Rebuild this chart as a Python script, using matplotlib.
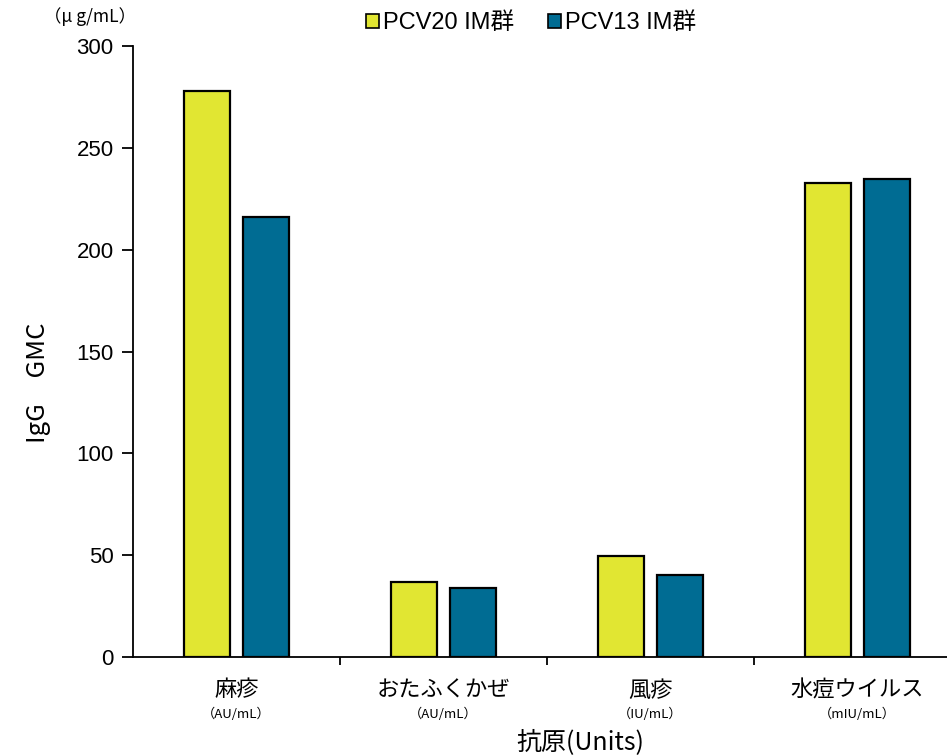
import matplotlib
matplotlib.use("Agg")
import matplotlib.pyplot as plt
import matplotlib.transforms as mtransforms
import numpy as np

plt.rcParams['font.family'] = ['Noto Sans CJK JP', 'DejaVu Sans']
LATIN = ['Liberation Sans', 'Noto Sans CJK JP']

categories = ["麻疹", "おたふくかぜ", "風疹", "水痘ウイルス"]
units = ["（AU/mL）", "（AU/mL）", "（IU/mL）", "（mIU/mL）"]
pcv20 = [278, 36.7, 49.6, 232.8]
pcv13 = [216, 33.9, 40.3, 234.6]
series_names = ["PCV20 IM群", "PCV13 IM群"]
yticks = [0, 50, 100, 150, 200, 250, 300]

c_yellow = "#E1E632"
c_blue = "#006C93"

W, H = 947, 756
fig = plt.figure(figsize=(W / 100, H / 100), dpi=100)
ax = fig.add_axes([133 / W, (H - 657) / H, (961 - 133) / W, 611 / H])

x = np.arange(len(categories))
bw = 0.227
off = 0.1425
ax.bar(x - off, pcv20, bw, color=c_yellow, edgecolor="black", linewidth=1.6, label=series_names[0], zorder=3)
ax.bar(x + off, pcv13, bw, color=c_blue, edgecolor="black", linewidth=1.6, label=series_names[1], zorder=3)

ax.set_xlim(-0.5, 3.5)
ax.set_ylim(0, 300)
ax.set_yticks(yticks)
ax.set_yticklabels([str(v) for v in yticks], fontsize=16, family=LATIN)
ax.tick_params(axis="y", direction="out", length=8, width=1.3, pad=6)
ax.set_xticks([0.5, 1.5, 2.5])
ax.set_xticklabels([])
ax.tick_params(axis="x", direction="out", length=6, width=1.3)
for s in ["top", "right"]:
    ax.spines[s].set_visible(False)
ax.spines["left"].set_linewidth(1.3)
ax.spines["bottom"].set_linewidth(1.3)

trans = mtransforms.blended_transform_factory(ax.transData, fig.transFigure)
for i, (c, u) in enumerate(zip(categories, units)):
    ax.text(i, 1 - 690 / H, c, transform=trans, ha="center", va="center", fontsize=16)
    ax.text(i, 1 - 714 / H, u, transform=trans, ha="center", va="center", fontsize=9.5)

fig.text(580 / W, 1 - 742 / H, "抗原(Units)", ha="center", va="center", fontsize=18)
fig.text(38 / W, 1 - 383 / H, "IgG　GMC", ha="center", va="center", rotation=90, fontsize=18.5)
fig.text(90 / W, 1 - 17 / H, "（μ g/mL）", ha="center", va="center", fontsize=12.5)

leg = fig.legend(loc="center", bbox_to_anchor=(531 / W, 1 - 23 / H), ncol=2, frameon=False,
                 prop={'family': LATIN, 'size': 17}, handlelength=0.55, handleheight=0.55,
                 handletextpad=0.2, columnspacing=1.4)
for p in leg.legend_handles:
    p.set_linewidth(1.2)

fig.savefig("out.png", dpi=100)
